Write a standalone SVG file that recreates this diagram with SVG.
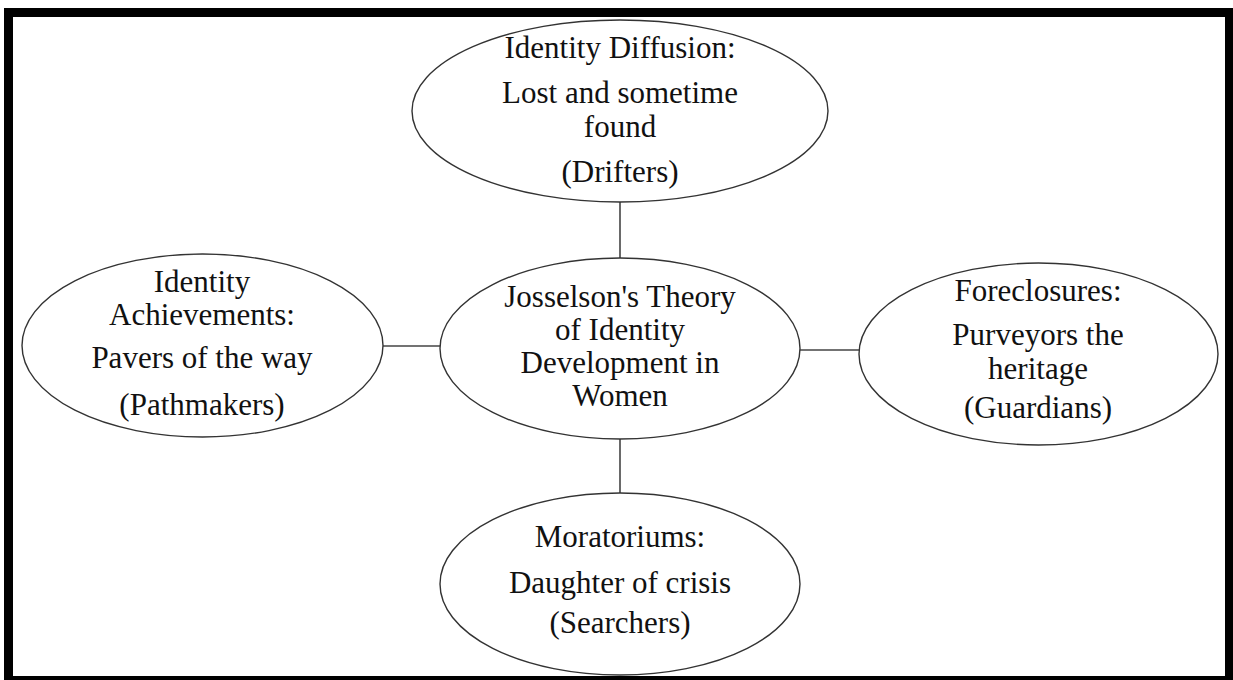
<svg xmlns="http://www.w3.org/2000/svg" width="1233" height="680" viewBox="0 0 1233 680">
<style>
.node ellipse{fill:#fff;stroke:#333;stroke-width:1.4}
.node text{font-family:"Liberation Serif","Times New Roman",serif;font-size:31px;fill:#111;text-anchor:middle}
.conn line{stroke:#444;stroke-width:1.6}
</style>
<rect x="0" y="0" width="1233" height="680" fill="#fff"/>
<rect x="8.5" y="12.5" width="1221" height="668" fill="none" stroke="#000" stroke-width="9"/>
<g id="connectors" class="conn">
<line x1="620" y1="202" x2="620" y2="258"/>
<line x1="620" y1="439" x2="620" y2="493"/>
<line x1="383" y1="346" x2="440" y2="346"/>
<line x1="800" y1="350" x2="859" y2="350"/>
</g>
<g id="diffusion" class="node">
<ellipse cx="620" cy="111" rx="208" ry="91"/>
<text x="620" y="58">Identity Diffusion:</text>
<text x="620" y="103">Lost and sometime</text>
<text x="620" y="137">found</text>
<text x="620" y="182">(Drifters)</text>
</g>
<g id="center" class="node">
<ellipse cx="620" cy="348.5" rx="180" ry="90.5"/>
<text x="620" y="307">Josselson's Theory</text>
<text x="620" y="340">of Identity</text>
<text x="620" y="373">Development in</text>
<text x="620" y="406">Women</text>
</g>
<g id="achievements" class="node">
<ellipse cx="202.5" cy="345.5" rx="180.5" ry="91.5"/>
<text x="202" y="292">Identity</text>
<text x="202" y="325">Achievements:</text>
<text x="202" y="368">Pavers of the way</text>
<text x="202" y="415">(Pathmakers)</text>
</g>
<g id="foreclosures" class="node">
<ellipse cx="1038.5" cy="354" rx="179.5" ry="91"/>
<text x="1038" y="301">Foreclosures:</text>
<text x="1038" y="345">Purveyors the</text>
<text x="1038" y="379">heritage</text>
<text x="1038" y="418">(Guardians)</text>
</g>
<g id="moratoriums" class="node">
<ellipse cx="620" cy="584" rx="180" ry="91"/>
<text x="620" y="547">Moratoriums:</text>
<text x="620" y="593">Daughter of crisis</text>
<text x="620" y="633">(Searchers)</text>
</g>
</svg>
